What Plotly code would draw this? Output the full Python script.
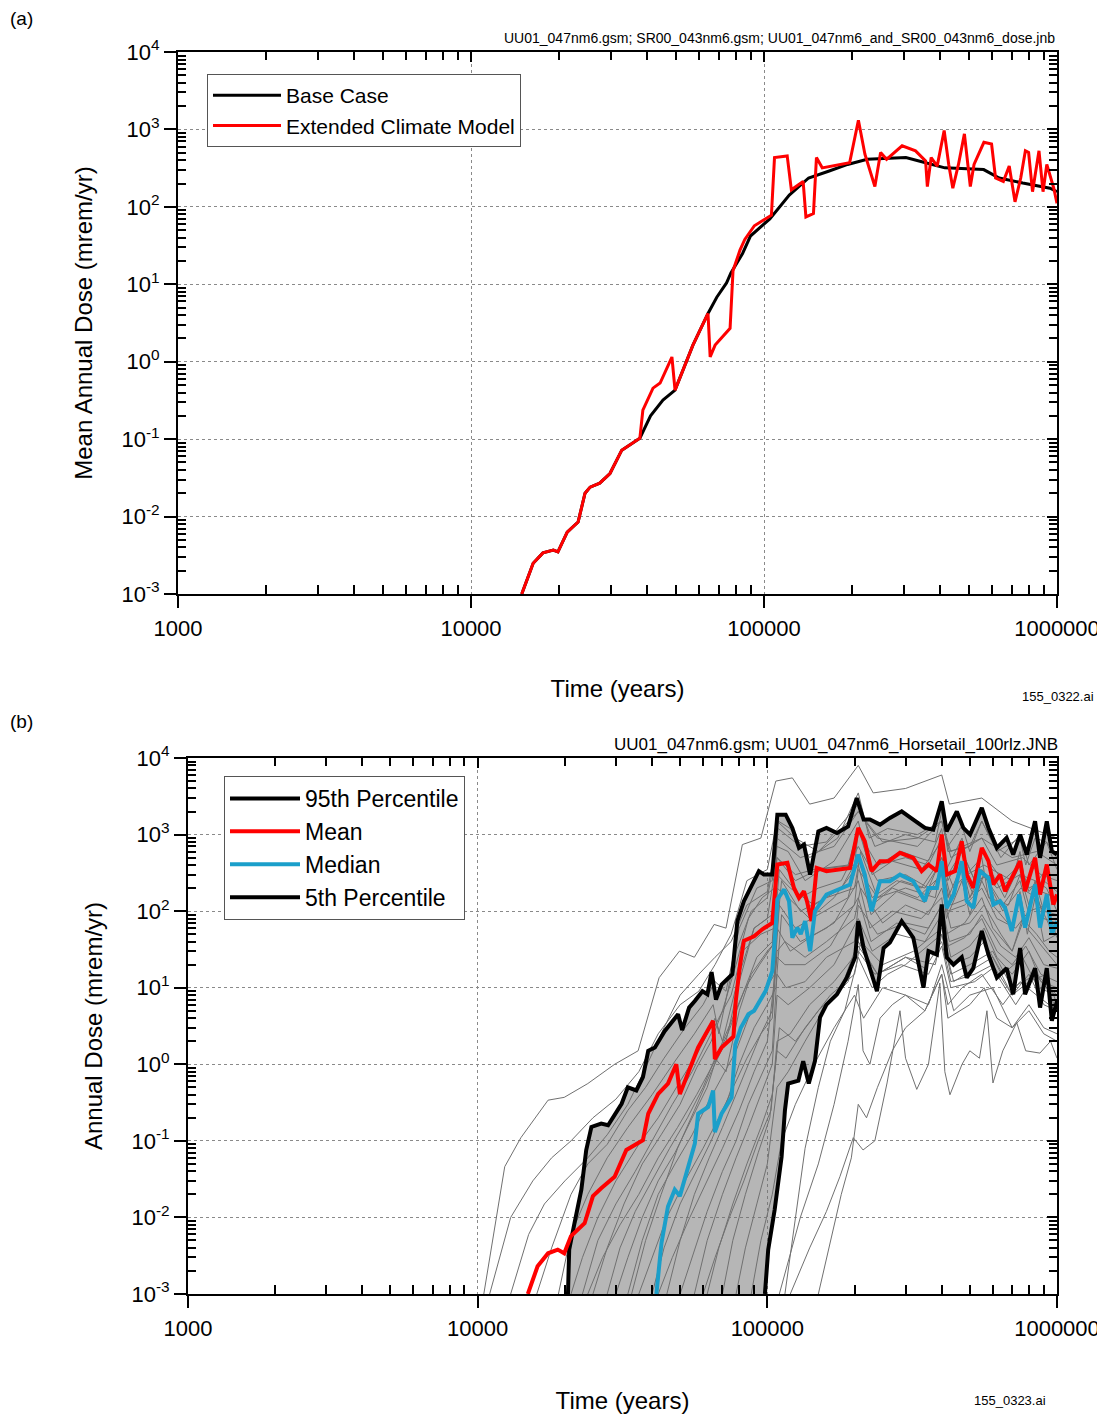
import plotly.graph_objects as go

W, H = 1105, 1418          # reference picture size
OFF = 8                    # the page body margin the figure sits inside
FW, FH = W - OFF, H - OFF  # figure size that fills the window
FONT = "Arial, Liberation Sans, sans-serif"

# ---------------- panel (a): mean annual dose ----------------
a_base_x = [14900, 16300, 17600, 19100, 19800, 21300, 23200, 24500, 25500, 27500, 29800, 32700,
            37700, 41000, 45200, 48500, 49700, 57200, 64400, 69000, 74500, 77100, 84500, 89900,
            104700, 122000, 142000, 166000, 193000, 225000, 305000, 356000, 414000, 562000,
            635000, 764000, 946000, 1000000]
a_base_y = [0.001, 0.0025, 0.0034, 0.0037, 0.0035, 0.0063, 0.0085, 0.020, 0.024, 0.027, 0.036, 0.072,
            0.103, 0.2, 0.32, 0.40, 0.43, 1.64, 4.2, 6.8, 10.4, 14, 25, 42,
            70, 142, 236, 288, 353, 411, 433, 371, 319, 303,
            236, 203, 174, 157]

a_ext_x = [14900, 16300, 17600, 19100, 19800, 21300, 23200, 24500, 25500, 27500, 29800, 32700,
           37700, 38600, 41800, 44200, 48500, 49700, 57200, 64400, 65500, 68100, 76600, 78400,
           82800, 86000, 92700, 106000, 108600, 120000, 124000, 136000, 139000, 147500, 151000,
           158000, 196000, 210000, 221000, 239000, 250000, 262000, 296000, 329000, 356000, 361000,
           372000, 390000, 412000, 427000, 441000, 461000, 483000, 506000, 521000, 563000, 598000,
           617000, 656000, 687000, 719000, 752000, 780000, 800000, 825000, 868000, 896000, 923000,
           975000, 1000000]
a_ext_y = [0.001, 0.0025, 0.0034, 0.0037, 0.0035, 0.0063, 0.0085, 0.020, 0.024, 0.027, 0.036, 0.072,
           0.103, 0.237, 0.456, 0.53, 1.15, 0.43, 1.64, 4.2, 1.15, 1.64, 2.7, 15,
           27.6, 38, 57, 78, 433, 455, 166, 213, 74, 82, 433,
           319, 371, 1313, 478, 183, 503, 411, 615, 529, 391, 183,
           433, 336, 970, 353, 174, 353, 877, 183, 353, 681, 648,
           236, 213, 336, 116, 236, 529, 503, 157, 529, 157, 353,
           174, 111]

# ---------------- panel (b): horsetail, 100 realizations ----------------
p95_x = [20500, 20700, 21600, 22800, 23700, 24700, 26700, 28200, 31400, 33000, 35300, 37200, 38800,
         40900, 44200, 49200, 50800, 53700, 56200, 59700, 62100, 64200, 66500, 69500, 75700, 78800,
         83000, 88700, 93500, 97300, 104000, 108300, 115700, 122000, 128600, 133800, 140500, 150000,
         160000, 174000, 190000, 203500, 215000, 226000, 245000, 265000, 291000, 319000, 350000,
         374000, 400000, 416000, 451000, 475000, 501000, 550000, 580000, 620000, 670000, 706000,
         746000, 787000, 840000, 874000, 922000, 960000, 1000000]
p95_y = [0.001, 0.0038, 0.0085, 0.023, 0.076, 0.152, 0.168, 0.16, 0.305, 0.50, 0.455, 0.68, 1.5,
         1.66, 2.7, 4.5, 2.8, 5.5, 6.7, 9, 8.2, 16, 7, 11, 15, 74,
         135, 223, 333, 300, 300, 1820, 1820, 1220, 670, 741, 300, 1100,
         1220, 1050, 1280, 3000, 1570, 1570, 1350, 1650, 2010, 1570, 1220,
         1160, 2720, 1100, 2010, 1220, 1000, 2230, 1220, 670, 905, 548,
         1000, 548, 1490, 497, 1490, 607, 548]

mean_x = [14900, 16100, 17500, 18900, 19900, 21000, 23400, 25000, 26700, 29700, 32600, 37200, 38800,
          42000, 45400, 48500, 49900, 57700, 65000, 65900, 69500, 76400, 77800, 80500, 83000, 90000,
          96100, 104000, 108300, 117300, 123600, 128600, 133800, 137000, 142000, 148000, 160000,
          193000, 206000, 217000, 229000, 245000, 262000, 287000, 319000, 341000, 360000, 385000,
          400000, 416000, 445000, 469000, 488000, 514000, 550000, 580000, 603000, 636000, 662000,
          698000, 746000, 776000, 840000, 874000, 922000, 972000, 1000000]
mean_y = [0.001, 0.0023, 0.0034, 0.0038, 0.0034, 0.0057, 0.0084, 0.019, 0.024, 0.034, 0.076, 0.102, 0.226,
          0.41, 0.56, 1.0, 0.41, 1.66, 3.7, 1.17, 1.66, 2.3, 6.7, 20, 41, 47,
          58, 70, 406, 427, 201, 149, 182, 135, 74, 367, 333,
          367, 1220, 818, 333, 449, 449, 577, 497, 333, 406, 333,
          1000, 300, 333, 818, 300, 201, 670, 449, 223, 300, 182,
          272, 449, 182, 497, 165, 406, 122, 165]

median_x = [41400, 43100, 45400, 47900, 49900, 53300, 56200, 57700, 62500, 65000, 65900, 69500, 75300,
            77500, 81000, 86000, 90000, 98700, 104000, 106900, 108300, 114300, 118800, 122000, 126900,
            130400, 135000, 140500, 146000, 160000, 193000, 206000, 217000, 229000, 245000, 265000,
            287000, 319000, 350000, 360000, 385000, 400000, 416000, 440000, 469000, 488000, 514000,
            542000, 580000, 603000, 636000, 662000, 698000, 740000, 776000, 840000, 874000, 922000,
            960000, 1000000]
median_y = [0.001, 0.0046, 0.0139, 0.023, 0.019, 0.046, 0.092, 0.226, 0.277, 0.455, 0.13, 0.226, 0.37,
            1.8, 3.0, 4.5, 5.0, 9.1, 16.5, 61, 142, 192, 135, 45, 61,
            50, 74, 30, 100, 165, 223, 548, 300, 100, 246, 246,
            300, 246, 135, 201, 201, 449, 110, 165, 449, 135, 110,
            333, 272, 122, 135, 110, 55, 165, 61, 223, 61, 165,
            50, 74]

p5_x = [98100, 100700, 106000, 112000, 115000, 118000, 128000, 133000, 139000, 146000, 152000, 160000,
        174000, 188000, 201000, 206000, 215000, 226000, 239000, 252000, 265000, 291000, 319000, 346000,
        360000, 385000, 400000, 416000, 439000, 469000, 488000, 514000, 550000, 580000, 620000, 670000,
        706000, 746000, 776000, 840000, 874000, 922000, 960000, 1000000]
p5_y = [0.001, 0.0038, 0.0126, 0.062, 0.25, 0.56, 0.61, 1.1, 0.56, 1.1, 4.1, 6,
        8.2, 13.5, 25, 74, 33, 18, 9, 33, 39, 74, 45, 10,
        30, 27, 122, 25, 20, 25, 13.5, 18, 55, 27, 13.5, 18,
        8.2, 33, 8.2, 18, 5.5, 18, 3.7, 6.7]

# individual realizations (a subset of the 100, read by eye)
grey_x = [
    [10500, 12400, 14100, 17500, 19900, 24000, 29700, 35800, 42300, 49700, 56000, 65500, 72000, 82000, 95000, 107000, 122000, 140000, 170000, 206000, 232000, 300000, 400000, 425000, 550000, 700000, 1000000],
    [11000, 13000, 15500, 18000, 21000, 25000, 30000, 36000, 42000, 50000, 58000, 66000, 75000, 85000, 100000, 108000, 125000, 150000, 206000, 240000, 330000, 400000, 430000, 550000, 620000, 760000, 880000, 1000000],
    [16000, 18000, 21000, 24000, 28000, 33000, 38000, 44000, 52000, 60000, 66000, 72000, 80000, 92000, 104000, 109000, 130000, 160000, 206000, 235000, 300000, 380000, 400000, 420000, 500000, 550000, 640000, 745000, 800000, 920000, 1000000],
    [19000, 21000, 24000, 28000, 33000, 40000, 48000, 56000, 65000, 68000, 78000, 88000, 100000, 108000, 118000, 135000, 170000, 206000, 225000, 290000, 360000, 400000, 415000, 470000, 490000, 560000, 700000, 745000, 780000, 840000, 880000, 1000000],
    [21000, 23000, 26000, 30000, 36000, 42000, 50000, 58000, 66000, 70000, 80000, 90000, 104000, 108000, 125000, 145000, 190000, 206000, 230000, 270000, 340000, 400000, 420000, 470000, 520000, 600000, 660000, 745000, 800000, 920000, 960000, 1000000],
    [23000, 26000, 30000, 35000, 40000, 47000, 55000, 62000, 68000, 75000, 82000, 95000, 106000, 110000, 130000, 150000, 180000, 206000, 240000, 300000, 360000, 400000, 440000, 550000, 580000, 680000, 745000, 840000, 900000, 1000000],
    [25000, 28000, 32000, 37000, 43000, 50000, 57000, 64000, 70000, 78000, 86000, 96000, 106000, 109000, 120000, 140000, 175000, 206000, 225000, 260000, 330000, 400000, 420000, 470000, 500000, 550000, 620000, 745000, 780000, 840000, 920000, 1000000],
    [28000, 31000, 35000, 40000, 46000, 53000, 60000, 66000, 72000, 80000, 88000, 100000, 107000, 112000, 130000, 160000, 200000, 210000, 240000, 300000, 380000, 400000, 430000, 500000, 560000, 650000, 750000, 850000, 950000, 1000000],
    [30000, 33000, 37000, 42000, 48000, 55000, 62000, 68000, 76000, 84000, 94000, 104000, 108000, 118000, 140000, 170000, 206000, 228000, 280000, 350000, 400000, 415000, 470000, 500000, 550000, 600000, 700000, 745000, 790000, 840000, 900000, 1000000],
    [33000, 37000, 42000, 48000, 55000, 62000, 70000, 78000, 86000, 96000, 106000, 110000, 125000, 150000, 190000, 206000, 230000, 270000, 330000, 400000, 420000, 480000, 550000, 620000, 720000, 800000, 920000, 1000000],
    [36000, 40000, 45000, 52000, 60000, 68000, 76000, 85000, 95000, 104000, 108000, 115000, 135000, 160000, 200000, 210000, 250000, 300000, 360000, 400000, 430000, 500000, 560000, 640000, 700000, 760000, 850000, 940000, 1000000],
    [40000, 44000, 50000, 57000, 64000, 72000, 80000, 90000, 100000, 107000, 112000, 130000, 160000, 200000, 206000, 240000, 290000, 350000, 400000, 430000, 470000, 520000, 560000, 650000, 745000, 800000, 840000, 900000, 1000000],
    [45000, 50000, 56000, 63000, 70000, 78000, 86000, 95000, 104000, 108000, 120000, 140000, 170000, 206000, 226000, 270000, 340000, 400000, 415000, 480000, 550000, 600000, 700000, 760000, 860000, 1000000],
    [50000, 55000, 62000, 70000, 78000, 86000, 95000, 104000, 108000, 116000, 135000, 160000, 200000, 206000, 240000, 300000, 360000, 400000, 425000, 500000, 550000, 640000, 720000, 800000, 900000, 1000000],
    [56000, 62000, 70000, 78000, 86000, 95000, 104000, 108000, 118000, 140000, 170000, 206000, 230000, 280000, 350000, 400000, 430000, 500000, 560000, 620000, 700000, 800000, 880000, 1000000],
    [62000, 68000, 76000, 85000, 95000, 104000, 110000, 125000, 150000, 180000, 206000, 240000, 300000, 380000, 400000, 440000, 520000, 600000, 700000, 800000, 900000, 1000000],
    [70000, 76000, 84000, 93000, 102000, 108000, 116000, 135000, 165000, 200000, 210000, 250000, 320000, 400000, 430000, 500000, 560000, 650000, 760000, 860000, 1000000],
    [78000, 84000, 92000, 100000, 108000, 118000, 135000, 160000, 190000, 206000, 240000, 300000, 350000, 400000, 430000, 520000, 600000, 700000, 800000, 920000, 1000000],
    [88000, 95000, 104000, 112000, 125000, 145000, 170000, 200000, 215000, 250000, 300000, 360000, 400000, 440000, 500000, 600000, 700000, 800000, 900000, 1000000],
    [120000, 140000, 160000, 178000, 198000, 214000, 235000, 259000, 287000, 300000, 328000, 360000, 394000, 410000, 427000, 470000, 500000, 540000, 573000, 601000, 650000, 726000, 780000, 873000, 950000, 1000000],
    [110000, 130000, 150000, 170000, 190000, 206000, 214000, 226000, 245000, 270000, 300000, 350000, 400000, 420000, 500000, 560000, 620000, 700000, 800000, 900000, 1000000],
    [150000, 165000, 180000, 195000, 206000, 220000, 240000, 270000, 300000, 350000, 400000, 420000, 470000, 550000, 650000, 745000, 850000, 1000000],
    [115000, 125000, 135000, 150000, 165000, 185000, 206000, 230000, 260000, 300000, 400000, 430000, 500000, 600000, 700000, 850000, 1000000],
    [13000, 15000, 17000, 20000, 24000, 28000, 33000, 38000, 44000, 50000, 58000, 66000, 75000, 85000, 100000, 108000, 130000, 170000, 206000, 250000, 330000, 400000, 430000, 550000, 700000, 850000, 1000000],
    [24000, 27000, 31000, 36000, 42000, 49000, 57000, 65000, 73000, 82000, 92000, 104000, 108000, 120000, 145000, 180000, 206000, 230000, 280000, 340000, 400000, 420000, 470000, 500000, 550000, 620000, 745000, 800000, 840000, 920000, 1000000],
    [42000, 47000, 54000, 62000, 70000, 80000, 90000, 100000, 108000, 115000, 135000, 165000, 206000, 228000, 280000, 350000, 400000, 420000, 480000, 550000, 620000, 700000, 780000, 880000, 1000000],
    [60000, 66000, 74000, 83000, 93000, 103000, 108000, 120000, 140000, 170000, 206000, 235000, 290000, 360000, 400000, 430000, 520000, 600000, 720000, 840000, 920000, 1000000],
    [34000, 38000, 43000, 49000, 56000, 64000, 72000, 80000, 90000, 100000, 108000, 125000, 150000, 200000, 206000, 240000, 300000, 360000, 400000, 420000, 470000, 520000, 550000, 650000, 745000, 800000, 900000, 1000000],
]
grey_y = [
    [0.001, 0.046, 0.11, 0.34, 0.37, 0.56, 1.0, 1.5, 13.5, 30, 25, 67, 60, 740, 900, 5000, 5500, 2500, 3000, 8000, 3500, 4000, 6000, 2500, 3000, 1500, 900],
    [0.001, 0.01, 0.03, 0.06, 0.1, 0.2, 0.35, 0.8, 2.5, 6, 9, 20, 50, 250, 350, 1500, 900, 600, 2000, 900, 700, 1500, 500, 900, 400, 500, 300, 250],
    [0.001, 0.004, 0.02, 0.05, 0.09, 0.25, 0.5, 1.2, 3, 6, 12, 9, 60, 200, 250, 1200, 700, 800, 2500, 700, 1000, 800, 2000, 600, 700, 1500, 500, 1000, 400, 800, 350],
    [0.001, 0.006, 0.02, 0.06, 0.15, 0.4, 1.1, 2.5, 6, 2.5, 30, 100, 150, 700, 600, 250, 450, 1500, 350, 600, 450, 1200, 350, 900, 300, 400, 250, 600, 200, 500, 180, 150],
    [0.001, 0.003, 0.01, 0.03, 0.09, 0.2, 0.6, 1.5, 4, 2, 15, 60, 90, 500, 300, 350, 400, 1200, 300, 450, 350, 800, 250, 600, 250, 300, 150, 400, 180, 350, 120, 150],
    [0.001, 0.005, 0.015, 0.04, 0.1, 0.3, 0.8, 2, 4, 8, 30, 50, 60, 350, 150, 200, 250, 700, 250, 300, 200, 500, 200, 500, 150, 120, 300, 250, 100, 90],
    [0.001, 0.004, 0.015, 0.05, 0.12, 0.3, 0.9, 2, 5, 20, 80, 150, 200, 1500, 1200, 500, 900, 3500, 900, 1200, 1000, 1500, 700, 1300, 600, 1500, 600, 900, 400, 900, 800, 500],
    [0.001, 0.004, 0.012, 0.03, 0.08, 0.2, 0.5, 1.2, 0.8, 5, 15, 30, 40, 250, 100, 150, 200, 600, 150, 200, 150, 400, 120, 150, 300, 100, 200, 150, 60, 70],
    [0.001, 0.003, 0.01, 0.03, 0.07, 0.2, 0.5, 1.5, 4, 10, 20, 35, 200, 150, 80, 150, 400, 90, 180, 130, 350, 80, 250, 90, 250, 120, 60, 180, 50, 150, 40, 50],
    [0.001, 0.005, 0.02, 0.05, 0.12, 0.3, 0.7, 1.5, 4, 8, 15, 120, 60, 90, 150, 500, 120, 200, 150, 300, 100, 120, 200, 80, 60, 100, 120, 45],
    [0.001, 0.003, 0.01, 0.03, 0.08, 0.2, 0.5, 1.2, 2.5, 4, 30, 40, 25, 40, 80, 200, 70, 120, 90, 200, 60, 70, 120, 50, 30, 80, 50, 30, 25],
    [0.001, 0.004, 0.015, 0.04, 0.1, 0.3, 1.0, 3, 6, 10, 90, 40, 60, 120, 350, 150, 250, 200, 450, 150, 350, 150, 300, 120, 250, 90, 200, 80, 70],
    [0.001, 0.005, 0.02, 0.06, 0.15, 0.4, 1.0, 2.5, 5, 60, 30, 45, 70, 250, 60, 100, 80, 150, 50, 70, 150, 60, 30, 70, 40, 20],
    [0.001, 0.003, 0.012, 0.04, 0.1, 0.3, 0.7, 1.5, 15, 10, 12, 25, 40, 120, 50, 70, 60, 120, 40, 50, 90, 35, 25, 45, 20, 18],
    [0.001, 0.005, 0.02, 0.06, 0.15, 0.4, 1.0, 8, 6, 10, 20, 80, 30, 50, 40, 90, 25, 35, 60, 25, 15, 30, 12, 10],
    [0.001, 0.004, 0.015, 0.05, 0.15, 0.4, 3, 2, 5, 10, 40, 15, 25, 20, 50, 12, 18, 25, 8, 15, 6, 5],
    [0.001, 0.005, 0.02, 0.07, 0.2, 1.5, 1.2, 3, 8, 15, 40, 20, 30, 60, 20, 25, 40, 15, 25, 10, 8],
    [0.001, 0.004, 0.015, 0.05, 0.5, 0.8, 2, 6, 12, 35, 15, 25, 18, 40, 12, 15, 20, 8, 12, 15, 6],
    [0.001, 0.005, 0.02, 0.1, 0.3, 1, 3, 8, 4, 10, 8, 6, 20, 5, 8, 10, 3, 6, 3, 2.5],
    [0.001, 0.004, 0.012, 0.034, 0.11, 0.076, 0.1, 0.57, 5, 1.2, 0.47, 1.0, 11.5, 0.8, 0.4, 1.0, 1.5, 1.2, 5, 0.57, 1.5, 3.5, 1.5, 1.4, 2, 1.2],
    [0.001, 0.01, 0.05, 0.3, 2, 11, 1.5, 1.0, 4, 6, 8, 5, 15, 4, 6, 10, 4, 3, 5, 2.5, 2],
    [0.001, 0.005, 0.02, 0.06, 0.3, 0.2, 0.5, 1.5, 3, 5, 15, 6, 10, 15, 6, 12, 8, 5],
    [0.001, 0.01, 0.08, 0.5, 2, 5, 25, 10, 15, 20, 50, 15, 20, 30, 10, 15, 8],
    [0.001, 0.006, 0.015, 0.03, 0.06, 0.12, 0.3, 0.9, 3, 8, 15, 25, 40, 120, 180, 900, 500, 700, 2000, 800, 900, 1500, 600, 900, 500, 600, 400],
    [0.001, 0.003, 0.008, 0.02, 0.06, 0.15, 0.4, 1.0, 2.5, 8, 25, 40, 300, 200, 120, 200, 500, 150, 250, 200, 500, 150, 400, 150, 350, 200, 300, 120, 250, 200, 100],
    [0.001, 0.003, 0.01, 0.03, 0.08, 0.25, 0.8, 2, 25, 20, 20, 35, 150, 40, 70, 50, 120, 35, 45, 80, 30, 20, 35, 15, 12],
    [0.001, 0.003, 0.01, 0.03, 0.1, 0.25, 2, 2.5, 6, 12, 30, 15, 20, 15, 35, 10, 12, 18, 6, 15, 10, 5],
    [0.001, 0.005, 0.02, 0.08, 0.25, 0.8, 2, 12, 60, 80, 500, 250, 350, 400, 1100, 400, 500, 400, 900, 300, 600, 250, 600, 250, 400, 200, 250, 180],
]

# ticks
x_major = [1000, 10000, 100000, 1000000]
x_major_text = ['1000', '10000', '100000', '1000000']
y_major = [0.001, 0.01, 0.1, 1, 10, 100, 1000, 10000]
y_major_text = ['10<sup>-3</sup>', '10<sup>-2</sup>', '10<sup>-1</sup>', '10<sup>0</sup>',
                '10<sup>1</sup>', '10<sup>2</sup>', '10<sup>3</sup>', '10<sup>4</sup>']
x_minor = [m * 10 ** e for e in (3, 4, 5) for m in range(2, 10)]
y_minor = [m * 10.0 ** e for e in range(-3, 4) for m in range(2, 10)]

MEDIAN_BLUE = '#1b9fca'


def fx(p):
    return (p - OFF) / FW


def fy(p):
    return 1 - (p - OFF) / FH


def xaxis_main(dom, anchor, standoff):
    return dict(type='log', range=[3, 6], domain=dom, anchor=anchor, automargin=False,
                showline=True, mirror=True, linecolor='black', linewidth=2,
                tickmode='array', tickvals=x_major, ticktext=x_major_text,
                ticks='outside', ticklen=12, tickwidth=2, tickcolor='black',
                minor=dict(tickmode='array', tickvals=x_minor, ticks='inside', ticklen=9,
                           tickwidth=1.5, tickcolor='black', showgrid=False),
                showgrid=True, gridcolor='#8a8a8a', griddash='dot', gridwidth=1,
                zeroline=False, tickfont=dict(size=22, color='black'), ticklabelstandoff=2,
                title=dict(text='Time (years)', font=dict(size=24, color='black'), standoff=standoff))


def yaxis_main(dom, anchor, title, standoff):
    return dict(type='log', range=[-3, 4], domain=dom, anchor=anchor, automargin=False,
                showline=True, mirror=True, linecolor='black', linewidth=2,
                tickmode='array', tickvals=y_major, ticktext=y_major_text,
                ticks='outside', ticklen=12, tickwidth=2, tickcolor='black',
                minor=dict(tickmode='array', tickvals=y_minor, ticks='inside', ticklen=8,
                           tickwidth=1.5, tickcolor='black', showgrid=False),
                showgrid=True, gridcolor='#8a8a8a', griddash='dot', gridwidth=1,
                zeroline=False, tickfont=dict(size=22, color='black'),
                title=dict(text=title, font=dict(size=24, color='black'), standoff=standoff))


def xaxis_top(over, anchor):
    return dict(type='log', range=[3, 6], overlaying=over, side='top', anchor=anchor, automargin=False,
                showline=False, tickmode='array', tickvals=x_major, ticks='inside', ticklen=10,
                tickwidth=2, tickcolor='black', showticklabels=False, showgrid=False, zeroline=False,
                minor=dict(tickmode='array', tickvals=x_minor, ticks='inside', ticklen=8,
                           tickwidth=1.5, tickcolor='black', showgrid=False))


def yaxis_right(over, anchor):
    return dict(type='log', range=[-3, 4], overlaying=over, side='right', anchor=anchor, automargin=False,
                showline=False, tickmode='array', tickvals=y_major, ticks='inside', ticklen=10,
                tickwidth=2, tickcolor='black', showticklabels=False, showgrid=False, zeroline=False,
                minor=dict(tickmode='array', tickvals=y_minor, ticks='inside', ticklen=8,
                           tickwidth=1.5, tickcolor='black', showgrid=False))


fig = go.Figure()

# panel (a)
fig.add_trace(go.Scatter(x=a_base_x, y=a_base_y, mode='lines', name='Base Case',
                         line=dict(color='black', width=3), xaxis='x', yaxis='y',
                         legend='legend', legendgroup='a1'))
fig.add_trace(go.Scatter(x=a_ext_x, y=a_ext_y, mode='lines', name='Extended Climate Model',
                         line=dict(color='#ff0000', width=3), xaxis='x', yaxis='y',
                         legend='legend', legendgroup='a2'))
# empty traces so the top / right tick axes get drawn
fig.add_trace(go.Scatter(x=[], y=[], xaxis='x3', yaxis='y', showlegend=False))
fig.add_trace(go.Scatter(x=[], y=[], xaxis='x', yaxis='y3', showlegend=False))

# panel (b): shaded spread of realizations between 5th and 95th
fig.add_trace(go.Scatter(x=[p95_x[0]] + p5_x, y=[p5_y[0]] + p5_y, mode='lines',
                         line=dict(width=0, color='rgba(0,0,0,0)'), showlegend=False,
                         hoverinfo='skip', xaxis='x2', yaxis='y2'))
fig.add_trace(go.Scatter(x=p95_x, y=p95_y, mode='lines', line=dict(width=0, color='rgba(0,0,0,0)'),
                         fill='tonexty', fillcolor='rgba(110,110,110,0.5)', showlegend=False,
                         hoverinfo='skip', xaxis='x2', yaxis='y2'))
for gx, gy in zip(grey_x, grey_y):
    fig.add_trace(go.Scatter(x=gx, y=gy, mode='lines', line=dict(color='#707070', width=1),
                             showlegend=False, hoverinfo='skip', xaxis='x2', yaxis='y2'))

fig.add_trace(go.Scatter(x=p95_x, y=p95_y, mode='lines', name='95th Percentile',
                         line=dict(color='black', width=4), xaxis='x2', yaxis='y2',
                         legend='legend2', legendgroup='b1'))
fig.add_trace(go.Scatter(x=mean_x, y=mean_y, mode='lines', name='Mean',
                         line=dict(color='#ff0000', width=4), xaxis='x2', yaxis='y2',
                         legend='legend2', legendgroup='b2'))
fig.add_trace(go.Scatter(x=median_x, y=median_y, mode='lines', name='Median',
                         line=dict(color=MEDIAN_BLUE, width=4), xaxis='x2', yaxis='y2',
                         legend='legend2', legendgroup='b3'))
fig.add_trace(go.Scatter(x=p5_x, y=p5_y, mode='lines', name='5th Percentile',
                         line=dict(color='black', width=4), xaxis='x2', yaxis='y2',
                         legend='legend2', legendgroup='b4'))
fig.add_trace(go.Scatter(x=[], y=[], xaxis='x4', yaxis='y2', showlegend=False))
fig.add_trace(go.Scatter(x=[], y=[], xaxis='x2', yaxis='y4', showlegend=False))

dom_ax = [fx(178), fx(1057)]
dom_ay = [fy(594), fy(52)]
dom_bx = [fx(188), fx(1057)]
dom_by = [fy(1294), fy(758)]

fig.update_layout(
    width=FW, height=FH,
    margin=dict(l=0, r=0, t=0, b=0, autoexpand=False),
    paper_bgcolor='white', plot_bgcolor='white',
    font=dict(family=FONT, color='black'),
    showlegend=True,
    xaxis=xaxis_main(dom_ax, 'y', 40),
    yaxis=yaxis_main(dom_ay, 'x', 'Mean Annual Dose (mrem/yr)', 22),
    xaxis3=xaxis_top('x', 'y'),
    yaxis3=yaxis_right('y', 'x'),
    xaxis2=xaxis_main(dom_bx, 'y2', 52),
    yaxis2=yaxis_main(dom_by, 'x2', 'Annual Dose (mrem/yr)', 22),
    xaxis4=xaxis_top('x2', 'y2'),
    yaxis4=yaxis_right('y2', 'x2'),
    legend=dict(x=fx(207), y=fy(74), xanchor='left', yanchor='top', bgcolor='white',
                bordercolor='#555555', borderwidth=1, font=dict(size=21, color='black'),
                traceorder='grouped', tracegroupgap=0, itemwidth=68),
    legend2=dict(x=fx(224), y=fy(776), xanchor='left', yanchor='top', bgcolor='white',
                 bordercolor='#555555', borderwidth=1, font=dict(size=23, color='black'),
                 traceorder='grouped', tracegroupgap=0, itemwidth=70),
    annotations=[
        dict(text='(a)', x=fx(8), y=fy(18), xref='paper', yref='paper', xanchor='left',
             yanchor='middle', showarrow=False, font=dict(size=19)),
        dict(text='UU01_047nm6.gsm; SR00_043nm6.gsm; UU01_047nm6_and_SR00_043nm6_dose.jnb',
             x=fx(1057), y=fy(38), xref='paper', yref='paper', xanchor='right', yanchor='middle',
             showarrow=False, font=dict(size=14)),
        dict(text='155_0322.ai', x=fx(1096), y=fy(696), xref='paper', yref='paper',
             xanchor='right', yanchor='middle', showarrow=False, font=dict(size=13)),
        dict(text='(b)', x=fx(8), y=fy(722), xref='paper', yref='paper', xanchor='left',
             yanchor='middle', showarrow=False, font=dict(size=19)),
        dict(text='UU01_047nm6.gsm; UU01_047nm6_Horsetail_100rlz.JNB',
             x=fx(1060), y=fy(744), xref='paper', yref='paper', xanchor='right', yanchor='middle',
             showarrow=False, font=dict(size=17)),
        dict(text='155_0323.ai', x=fx(1048), y=fy(1400), xref='paper', yref='paper',
             xanchor='right', yanchor='middle', showarrow=False, font=dict(size=13)),
    ],
)

fig.write_html("out.html")
